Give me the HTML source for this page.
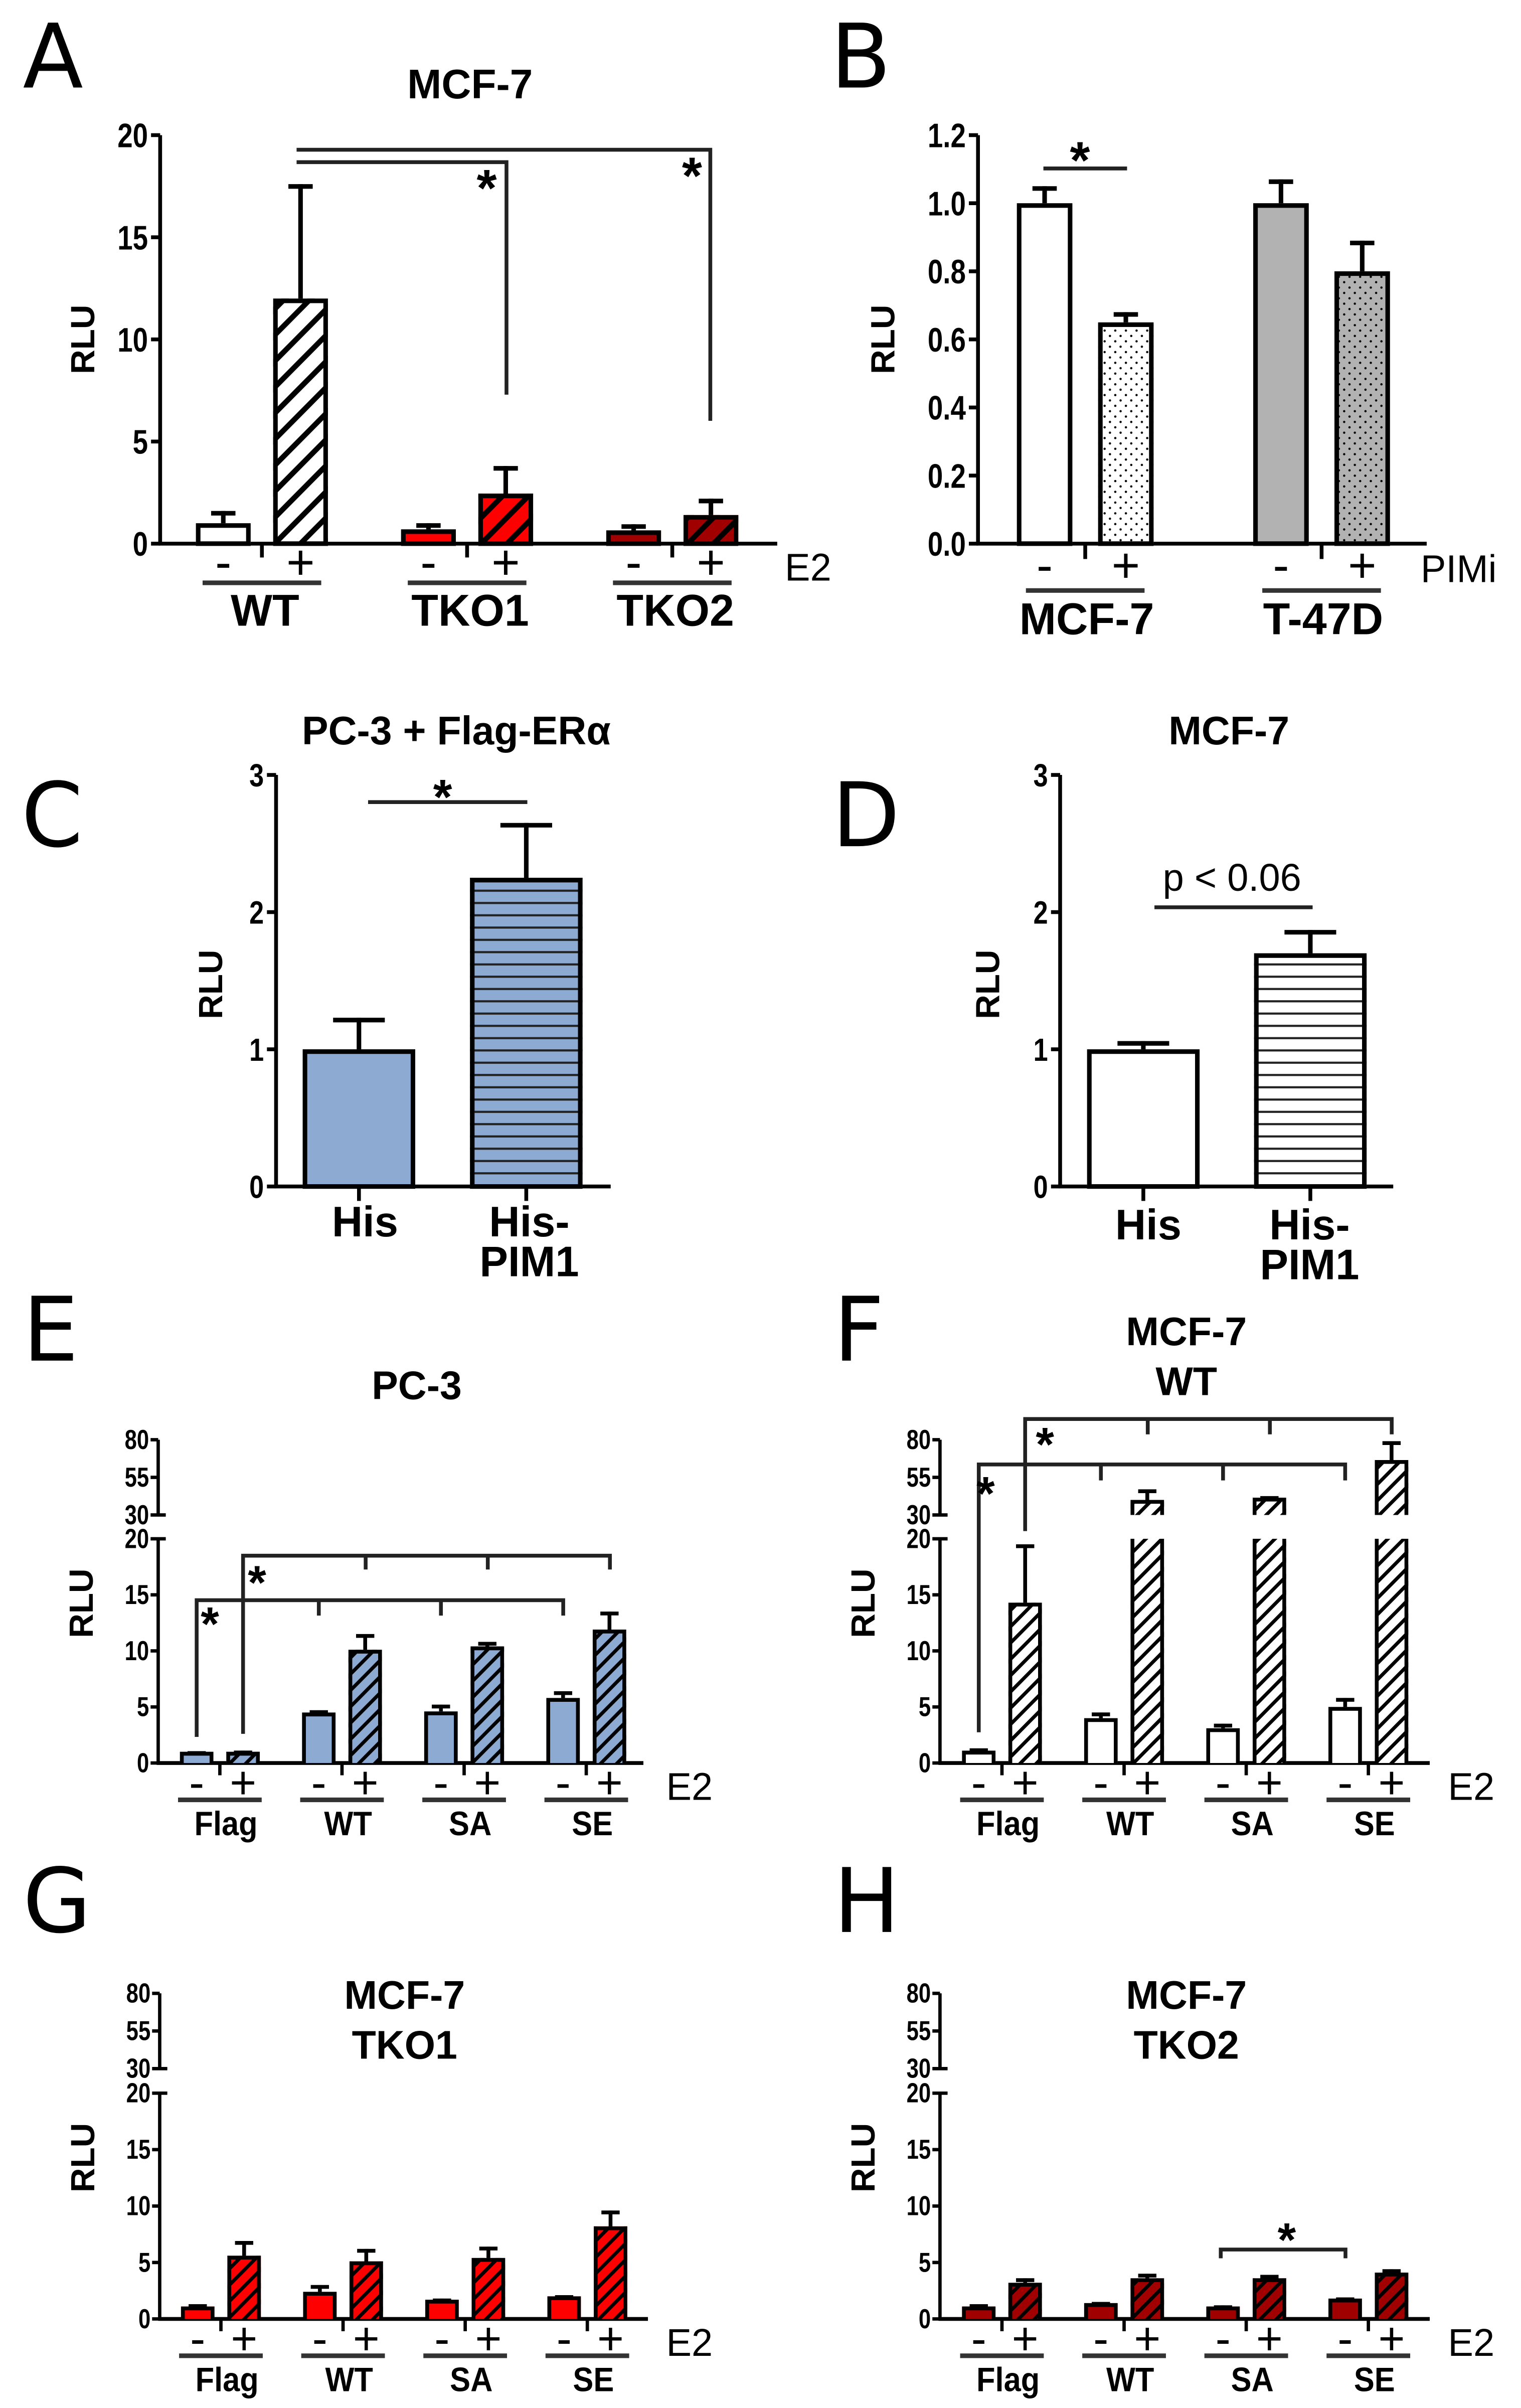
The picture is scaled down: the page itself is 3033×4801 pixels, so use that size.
<!DOCTYPE html>
<html><head><meta charset="utf-8"><style>
html,body{margin:0;padding:0;background:#fff}
svg{display:block}
text{font-family:"Liberation Sans",Arial,sans-serif}
.let{font-family:"DejaVu Sans","Liberation Sans",sans-serif}
</style></head><body>
<svg id="fig" xmlns="http://www.w3.org/2000/svg" width="3033" height="4801" viewBox="0 0 1000 1568" preserveAspectRatio="none">
<defs>
<pattern id="hatchA" patternUnits="userSpaceOnUse" width="12" height="12" patternTransform="rotate(45)"><line x1="6" y1="0" x2="6" y2="12" stroke="#000" stroke-width="3.5"/></pattern>
<pattern id="hatchS" patternUnits="userSpaceOnUse" width="7.5" height="7.5" patternTransform="rotate(45)"><line x1="3.75" y1="0" x2="3.75" y2="7.5" stroke="#000" stroke-width="2.3"/></pattern>
<pattern id="dots" patternUnits="userSpaceOnUse" width="7" height="7"><circle cx="1.75" cy="1.75" r="0.75" fill="#000"/><circle cx="5.25" cy="5.25" r="0.75" fill="#000"/></pattern>
<pattern id="stripes" patternUnits="userSpaceOnUse" width="8" height="8"><line x1="0" y1="4" x2="8" y2="4" stroke="#222" stroke-width="1.4"/></pattern>
</defs>
</svg>
<script>
// ---------- DATA ----------
const aCats = ['WT','TKO1','TKO2'];
const aMean = [1.0, 12.0, 0.7, 2.45, 0.65, 1.4];
const aSem  = [0.6, 5.6, 0.3, 1.35, 0.3, 0.8];
const aTicks = [0, 5, 10, 15, 20];

const bCats = ['MCF-7','T-47D'];
const bMean = [1.0, 0.65, 1.0, 0.8];
const bSem  = [0.05, 0.03, 0.07, 0.09];
const bTicks = [0, 0.2, 0.4, 0.6, 0.8, 1.0, 1.2];

const cCats = ['His','His-PIM1'];
const cMean = [1.0, 2.25];
const cSem  = [0.23, 0.4];
const cTicks = [0, 1, 2, 3];

const dCats = ['His','His-PIM1'];
const dMean = [1.0, 1.7];
const dSem  = [0.06, 0.17];
const dTicks = [0, 1, 2, 3];

const efCats = ['Flag','WT','SA','SE'];
const eMean = [1.0, 1.0, 4.5, 10.1, 4.6, 10.4, 5.8, 11.9];
const eSem  = [0.05, 0.1, 0.2, 1.4, 0.6, 0.4, 0.6, 1.6];
const fMean = [1.1, 14.3, 4.0, 40, 3.1, 41.5, 5.0, 66.5];
const fSem  = [0.2, 5.2, 0.5, 7, 0.4, 1, 0.8, 12.5];
const gMean = [1.1, 5.6, 2.4, 5.1, 1.7, 5.4, 2.0, 8.2];
const gSem  = [0.2, 1.3, 0.6, 1.1, 0.1, 1.0, 0.1, 1.4];
const hMean = [1.1, 3.2, 1.4, 3.6, 1.1, 3.6, 1.8, 4.1];
const hSem  = [0.2, 0.4, 0.1, 0.4, 0.1, 0.3, 0.1, 0.3];
const brokenLowTicks = [0, 5, 10, 15, 20];
const brokenHighTicks = [30, 55, 80];

// ---------- HELPERS ----------
const NS = 'http://www.w3.org/2000/svg';
const svg = document.getElementById('fig');
function mk(tag, attrs, parent, name) {
  const e = document.createElementNS(NS, tag);
  for (const k in attrs) e.setAttribute(k, attrs[k]);
  
  
  (parent || svg).appendChild(e);
  return e;
}
function txt(x, y, s, size, opts, name, parent) {
  opts = opts || {};
  const t = mk('text', {x: x, y: y, 'font-size': size, 'text-anchor': opts.anchor || 'middle', fill: '#000'}, parent, name);
  if (opts.bold) t.setAttribute('font-weight', 'bold');
  if (opts.cls) t.setAttribute('class', opts.cls);
  if (opts.rot) t.setAttribute('transform', 'rotate(-90 ' + x + ' ' + y + ')');
  else if (opts.sx) t.setAttribute('transform', 'translate(' + x + ' ' + y + ') scale(' + opts.sx + ' 1) translate(' + (-x) + ' ' + (-y) + ')');
  t.textContent = s;
  return t;
}
function line(x1, y1, x2, y2, w, name, parent, col) {
  return mk('line', {x1: x1, y1: y1, x2: x2, y2: y2, stroke: col || '#000', 'stroke-width': w, 'stroke-linecap': 'butt'}, parent, name);
}
function poly(pts, w, name, parent, col) {
  return mk('polyline', {points: pts.map(p => p.join(',')).join(' '), fill: 'none', stroke: col || '#000', 'stroke-width': w}, parent, name);
}

function simplePanel(p) {
  const g = mk('g', {}, svg, p.name);
  const ys = v => p.y0 - (v / p.vmax) * (p.y0 - p.yTop);
  line(p.axisX, p.yTop, p.axisX, p.y0 + 1, 2.5, 'y-axis', g);
  line(p.axisX - 1, p.y0, p.xEnd, p.y0, 2.5, 'x-axis', g);
  p.ticks.forEach(t => {
    line(p.axisX - 6, ys(t), p.axisX, ys(t), 2.5, 'y-tick', g);
    txt(p.axisX - 8, ys(t) + p.tickSize * 0.36, p.fmt(t), p.tickSize, {anchor: 'end', bold: 1, sx: 0.82}, 'y-tick-label', g);
  });
  txt(p.rluX, p.rluY, 'RLU', 22, {bold: 1, rot: 1}, 'y-axis-title', g);
  p.mean.forEach((v, i) => {
    const cx = p.center(i);
    const x1 = cx - p.barW / 2;
    const yv = ys(v);
    mk('rect', {x: x1, y: yv, width: p.barW, height: p.y0 - yv, fill: p.fill(i), stroke: 'none'}, g, 'bar-fill');
    if (p.pattern(i)) mk('rect', {x: x1, y: yv, width: p.barW, height: p.y0 - yv, fill: 'url(#' + p.pattern(i) + ')', stroke: 'none'}, g, 'bar-pattern');
    mk('rect', {x: x1 + 1.5, y: yv + 1.5, width: p.barW - 3, height: p.y0 - yv - 1.5, fill: 'none', stroke: '#000', 'stroke-width': 3}, g, 'bar-' + i);
    const ye = ys(v + p.sem[i]);
    line(cx, yv, cx, ye, 3, 'error-bar', g);
    line(cx - p.cap, ye + 1.5, cx + p.cap, ye + 1.5, 3, 'error-cap', g);
  });
  return {g: g, ys: ys};
}

function brokenPanel(p) {
  const g = mk('g', {}, svg, p.name);
  const ys = v => v <= 20 ? p.y0 - v * (p.y0 - p.y20) / 20 : p.y30 - (v - 30) * (p.y30 - p.y80) / 50;
  line(p.axisX, p.y20, p.axisX, p.y0 + 1, 2.2, 'y-axis-lower', g);
  line(p.axisX, p.y80, p.axisX, p.y30, 2.2, 'y-axis-upper', g);
  line(p.axisX - 1, p.y0, p.xEnd, p.y0, 2.5, 'x-axis', g);
  brokenLowTicks.forEach(t => {
    const y = ys(t);
    line(p.axisX - 5, y, p.axisX + (t === 20 ? 5 : 0), y, 2.2, 'y-tick', g);
    txt(p.axisX - 6, y + 6, String(t), 18, {anchor: 'end', bold: 1, sx: 0.8}, 'y-tick-label', g);
  });
  brokenHighTicks.forEach(t => {
    const y = p.y30 - (t - 30) * (p.y30 - p.y80) / 50;
    line(p.axisX - 5, y, p.axisX + (t === 30 ? 5 : 0), y, 2.2, 'y-tick', g);
    txt(p.axisX - 6, y + 6, String(t), 18, {anchor: 'end', bold: 1, sx: 0.8}, 'y-tick-label', g);
  });
  txt(p.axisX - 43, p.rluY, 'RLU', 22, {bold: 1, rot: 1}, 'y-axis-title', g);
  const bw = 22;
  p.mean.forEach((v, i) => {
    const cx = p.x0 + Math.floor(i / 2) * p.pitch + (i % 2) * p.off;
    const x1 = cx - bw / 2;
    const pat = i % 2 ? 'hatchS' : null;
    function seg(yTopSeg, yBot, topBorder, nm) {
      mk('rect', {x: x1, y: yTopSeg, width: bw, height: yBot - yTopSeg, fill: p.fill}, g, nm + '-fill');
      if (pat) mk('rect', {x: x1, y: yTopSeg, width: bw, height: yBot - yTopSeg, fill: 'url(#' + pat + ')'}, g, nm + '-pattern');
      if (topBorder) poly([[x1 + 1.25, yBot], [x1 + 1.25, yTopSeg + 1.25], [x1 + bw - 1.25, yTopSeg + 1.25], [x1 + bw - 1.25, yBot]], 2.5, nm, g);
      else { line(x1 + 1.25, yTopSeg, x1 + 1.25, yBot, 2.5, nm + '-left', g); line(x1 + bw - 1.25, yTopSeg, x1 + bw - 1.25, yBot, 2.5, nm + '-right', g); }
    }
    const yv = ys(v);
    if (v <= 20) seg(yv, p.y0, true, 'bar-' + i);
    else { seg(p.y20, p.y0, false, 'bar-lower-' + i); seg(yv, p.y30, true, 'bar-upper-' + i); }
    const ye = ys(v + p.sem[i]);
    line(cx, yv, cx, ye, 2.5, 'error-bar', g);
    line(cx - 6, ye + 1.2, cx + 6, ye + 1.2, 2.5, 'error-cap', g);
  });
  efCats.forEach((c, k) => {
    const cm = p.x0 + k * p.pitch;
    const cp = cm + p.off;
    const mid = (cm + cp) / 2;
    line(mid, p.y0, mid, p.y0 + 8, 2.2, 'x-tick', g);
    txt(cm, p.y0 + 23, '-', 30, {}, 'minus-label', g);
    txt(cp, p.y0 + 23, '+', 30, {}, 'plus-label', g);
    line(mid - 27.5, p.y0 + 24, mid + 27.5, p.y0 + 24, 3, 'group-underline', g, '#333');
    txt(mid + 4, p.y0 + 47, c, 22, {bold: 1, sx: 0.92}, 'group-label-' + c.toLowerCase(), g);
  });
  txt(p.e2X, p.y0 + 24, 'E2', 25, {anchor: 'start'}, 'e2-label', g);
  return {g: g, ys: ys};
}

// ---------- PANEL A ----------
txt(15, 57, 'A', 58, {anchor: 'start', cls: 'let'}, 'panel-letter-a');
txt(309, 64, 'MCF-7', 27, {bold: 1}, 'title-a');
const A = simplePanel({name: 'panel-a', axisX: 105.3, xEnd: 511, y0: 354, yTop: 88, vmax: 20, ticks: aTicks, fmt: t => String(t), tickSize: 22,
  rluX: 62, rluY: 221, mean: aMean, sem: aSem, barW: 36, cap: 8,
  center: i => 146.8 + Math.floor(i / 2) * 134.9 + (i % 2) * 50.8,
  fill: i => ['#ffffff', '#ff0000', '#a00000'][Math.floor(i / 2)],
  pattern: i => i % 2 ? 'hatchA' : null});
aCats.forEach((c, k) => {
  const cm = 146.8 + k * 134.9, cp = cm + 50.8, mid = (cm + cp) / 2;
  line(mid, 354, mid, 363, 2.5, 'x-tick', A.g);
  txt(cm, 377, '-', 32, {}, 'minus-label', A.g);
  txt(cp, 377, '+', 32, {}, 'plus-label', A.g);
  line(mid - 39, 379.5, mid + 39, 379.5, 3, 'group-underline', A.g, '#333');
  txt(mid + 2, 407.5, c, 29, {bold: 1}, 'group-label-' + c.toLowerCase(), A.g);
});
txt(516, 378, 'E2', 25, {anchor: 'start'}, 'e2-label');
poly([[195, 97.5], [467, 97.5], [467, 274]], 2.5, 'sig-bracket-tko2', A.g, '#222');
poly([[195, 105.6], [333, 105.6], [333, 257]], 2.5, 'sig-bracket-tko1', A.g, '#222');
txt(320, 134, '*', 34, {bold: 1}, 'sig-star', A.g);
txt(455, 126, '*', 34, {bold: 1}, 'sig-star', A.g);

// ---------- PANEL B ----------
txt(546, 57, 'B', 58, {anchor: 'start', cls: 'let'}, 'panel-letter-b');
const B = simplePanel({name: 'panel-b', axisX: 643, xEnd: 938, y0: 354, yTop: 88, vmax: 1.2, ticks: bTicks, fmt: t => t.toFixed(1), tickSize: 22,
  rluX: 588, rluY: 221, mean: bMean, sem: bSem, barW: 36.5, cap: 8,
  center: i => 686.8 + Math.floor(i / 2) * 155.4 + (i % 2) * 53.4,
  fill: i => i < 2 ? '#ffffff' : '#b2b2b2',
  pattern: i => i % 2 ? 'dots' : null});
bCats.forEach((c, k) => {
  const cm = 686.8 + k * 155.4, cp = cm + 53.4, mid = (cm + cp) / 2;
  line(mid, 354, mid, 364, 2.5, 'x-tick', B.g);
  txt(cm, 379, '-', 32, {}, 'minus-label', B.g);
  txt(cp, 379, '+', 32, {}, 'plus-label', B.g);
  line(mid - 39, 384.5, mid + 39, 384.5, 3, 'group-underline', B.g, '#333');
  txt(mid + 1, 413, c, 29, {bold: 1}, 'group-label-' + c.toLowerCase(), B.g);
});
txt(934, 379, 'PIMi', 25, {anchor: 'start'}, 'pimi-label');
line(686, 109.7, 741, 109.7, 2.5, 'sig-line', B.g, '#222');
txt(710, 116, '*', 34, {bold: 1}, 'sig-star', B.g);

// ---------- PANEL C ----------
txt(14, 551, 'C', 58, {anchor: 'start', cls: 'let'}, 'panel-letter-c');
txt(300, 484.6, 'PC-3 + Flag-ERα', 26, {bold: 1}, 'title-c');
const C = simplePanel({name: 'panel-c', axisX: 181.5, xEnd: 401.5, y0: 772.6, yTop: 504.6, vmax: 3, ticks: cTicks, fmt: t => String(t), tickSize: 21,
  rluX: 146, rluY: 641, mean: cMean, sem: cSem, barW: 74, cap: 17,
  center: i => 236 + i * 110,
  fill: i => '#8caad2',
  pattern: i => i === 1 ? 'stripes' : null});
cCats.forEach((c, k) => { line(236 + k * 110, 772.6, 236 + k * 110, 782, 2.5, 'x-tick', C.g); });
txt(240, 805, 'His', 28, {bold: 1}, 'x-label-his', C.g);
txt(348, 805, 'His-', 28, {bold: 1}, 'x-label-his-pim1', C.g);
txt(348, 831, 'PIM1', 28, {bold: 1}, 'x-label-his-pim1-2', C.g);
line(242, 522.3, 346.7, 522.3, 2.5, 'sig-line', C.g, '#222');
txt(291, 530, '*', 32, {bold: 1}, 'sig-star', C.g);

// ---------- PANEL D ----------
txt(547, 551, 'D', 58, {anchor: 'start', cls: 'let'}, 'panel-letter-d');
txt(808, 484.6, 'MCF-7', 26, {bold: 1}, 'title-d');
const D = simplePanel({name: 'panel-d', axisX: 697, xEnd: 916, y0: 772.6, yTop: 504.6, vmax: 3, ticks: dTicks, fmt: t => String(t), tickSize: 21,
  rluX: 657, rluY: 641, mean: dMean, sem: dSem, barW: 74, cap: 17,
  center: i => 751.7 + i * 109.8,
  fill: i => '#ffffff',
  pattern: i => i === 1 ? 'stripes' : null});
dCats.forEach((c, k) => { line(751.7 + k * 109.8, 772.6, 751.7 + k * 109.8, 782, 2.5, 'x-tick', D.g); });
txt(755, 807, 'His', 28, {bold: 1}, 'x-label-his', D.g);
txt(861, 807, 'His-', 28, {bold: 1}, 'x-label-his-pim1', D.g);
txt(861, 833, 'PIM1', 28, {bold: 1}, 'x-label-his-pim1-2', D.g);
line(759, 590.8, 863, 590.8, 2.5, 'sig-line', D.g, '#222');
txt(810, 580, 'p < 0.06', 25, {}, 'p-value-label', D.g);

// ---------- PANEL E ----------
txt(15, 886, 'E', 58, {anchor: 'start', cls: 'let'}, 'panel-letter-e');
txt(274, 911, 'PC-3', 26, {bold: 1}, 'title-e');
const E = brokenPanel({name: 'panel-e', axisX: 104, xEnd: 423, y0: 1148, y20: 1002, y30: 986.5, y80: 937.5, rluY: 1044,
  x0: 129.3, pitch: 80.3, off: 30.5, mean: eMean, sem: eSem, fill: '#8caad2', e2X: 438});
poly([[159.8, 1129], [159.8, 1013], [401, 1013], [401, 1022]], 2.5, 'sig-bracket-1', E.g, '#222');
line(240.4, 1013, 240.4, 1022, 2.5, 'sig-drop', E.g, '#222');
line(320.7, 1013, 320.7, 1022, 2.5, 'sig-drop', E.g, '#222');
poly([[129.3, 1131], [129.3, 1042], [370.3, 1042], [370.3, 1052]], 2.5, 'sig-bracket-2', E.g, '#222');
line(209.6, 1042, 209.6, 1052, 2.5, 'sig-drop', E.g, '#222');
line(289.9, 1042, 289.9, 1052, 2.5, 'sig-drop', E.g, '#222');
txt(169, 1041, '*', 31, {bold: 1}, 'sig-star', E.g);
txt(138, 1068, '*', 31, {bold: 1}, 'sig-star', E.g);

// ---------- PANEL F ----------
txt(548, 886, 'F', 58, {anchor: 'start', cls: 'let'}, 'panel-letter-f');
txt(780, 876, 'MCF-7', 26, {bold: 1}, 'title-f-1');
txt(780, 908.5, 'WT', 26, {bold: 1}, 'title-f-2');
const F = brokenPanel({name: 'panel-f', axisX: 618, xEnd: 940, y0: 1148, y20: 1002, y30: 986.5, y80: 937.5, rluY: 1044,
  x0: 643.5, pitch: 80.3, off: 30.5, mean: fMean, sem: fSem, fill: '#ffffff', e2X: 952});
poly([[674, 997], [674, 924], [915, 924], [915, 934]], 2.5, 'sig-bracket-1', F.g, '#222');
line(754.6, 924, 754.6, 934, 2.5, 'sig-drop', F.g, '#222');
line(834.9, 924, 834.9, 934, 2.5, 'sig-drop', F.g, '#222');
poly([[643.5, 1128], [643.5, 953.6], [884.4, 953.6], [884.4, 964]], 2.5, 'sig-bracket-2', F.g, '#222');
line(723.8, 953.6, 723.8, 964, 2.5, 'sig-drop', F.g, '#222');
line(804.1, 953.6, 804.1, 964, 2.5, 'sig-drop', F.g, '#222');
txt(687, 951, '*', 31, {bold: 1}, 'sig-star', F.g);
txt(648, 983, '*', 31, {bold: 1}, 'sig-star', F.g);

// ---------- PANEL G ----------
txt(15, 1258, 'G', 58, {anchor: 'start', cls: 'let'}, 'panel-letter-g');
txt(266, 1308, 'MCF-7', 26, {bold: 1}, 'title-g-1');
txt(266, 1340.6, 'TKO1', 26, {bold: 1}, 'title-g-2');
const G = brokenPanel({name: 'panel-g', axisX: 105, xEnd: 426, y0: 1510, y20: 1363, y30: 1347, y80: 1298, rluY: 1405,
  x0: 130, pitch: 80.3, off: 30.5, mean: gMean, sem: gSem, fill: '#ff0000', e2X: 438});

// ---------- PANEL H ----------
txt(548, 1258, 'H', 58, {anchor: 'start', cls: 'let'}, 'panel-letter-h');
txt(780, 1308, 'MCF-7', 26, {bold: 1}, 'title-h-1');
txt(780, 1340.6, 'TKO2', 26, {bold: 1}, 'title-h-2');
const H = brokenPanel({name: 'panel-h', axisX: 618, xEnd: 940, y0: 1510, y20: 1363, y30: 1347, y80: 1298, rluY: 1405,
  x0: 643.5, pitch: 80.3, off: 30.5, mean: hMean, sem: hSem, fill: '#a00000', e2X: 952});
poly([[802.6, 1470.5], [802.6, 1464.8], [884.6, 1464.8], [884.6, 1470.5]], 2.5, 'sig-bracket', H.g, '#222');
txt(846, 1469, '*', 31, {bold: 1}, 'sig-star', H.g);
</script>
</body></html>
